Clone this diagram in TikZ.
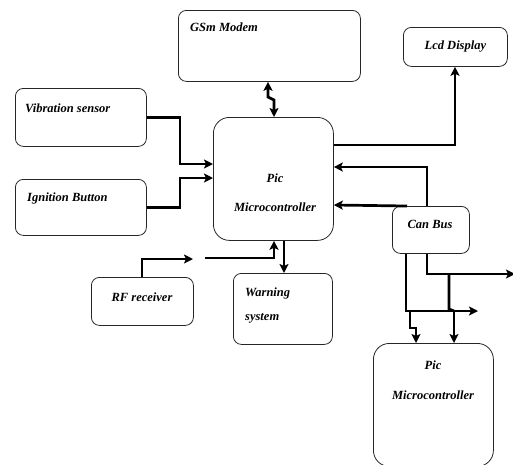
\documentclass[tikz,border=0pt]{standalone}
\usepackage{fontspec}
\setmainfont{Liberation Serif}
\usetikzlibrary{arrows.meta}
\begin{document}
\begin{tikzpicture}[x=1pt,y=-1pt,
  box/.style={draw=black!85, line width=0.8pt, rounded corners=8pt, inner sep=0pt, anchor=north west},
  bigbox/.style={box, rounded corners=16pt},
  lbl/.style={font=\fontsize{12.5}{15}\selectfont\bfseries\itshape, inner sep=0pt},
  conn/.style={line width=2.7pt},
  tip/.tip={Stealth[length=9pt,width=9pt,inset=2pt]},
  arr/.style={conn, -tip},
  darr/.style={conn, tip-tip}
]
\path[use as bounding box] (0,0) rectangle (513,464);

% boxes
\node[box, minimum width=182pt, minimum height=71pt] (gsm) at (178,10) {};
\node[box, minimum width=104pt, minimum height=39pt] (lcd) at (403,27) {};
\node[box, minimum width=131pt, minimum height=58pt] (vib) at (15,88) {};
\node[box, minimum width=131pt, minimum height=56pt] (ign) at (15,179) {};
\node[bigbox, minimum width=120pt, minimum height=123pt] (pic) at (213,117) {};
\node[box, minimum width=102pt, minimum height=48pt] (rf) at (91,277) {};
\node[box, minimum width=99pt, minimum height=71pt] (warn) at (233,273) {};
\node[box, minimum width=77pt, minimum height=47pt] (can) at (392,206) {};
\node[bigbox, minimum width=120pt, minimum height=123pt] (pic2) at (373,343) {};

% texts
\node[lbl, anchor=west] (gsmt) at (190,27) {GSm Modem};
\node[lbl] (lcdt) at (lcd.center) {Lcd Display};
\node[lbl, anchor=west] (vibt) at (25,108) {Vibration sensor};
\node[lbl, anchor=west] (ignt) at (27,198) {Ignition Button};
\node[lbl] (pict1) at (275,178) {Pic};
\node[lbl] (pict2) at (275,207) {Microcontroller};
\node[lbl] (rft) at (142,297) {RF receiver};
\node[lbl, anchor=west] (warnt1) at (245,293) {Warning};
\node[lbl, anchor=west] (warnt2) at (245,318) {system};
\node[lbl] (cant) at (430,224) {Can Bus};
\node[lbl] (pic2t1) at (433,365) {Pic};
\node[lbl] (pic2t2) at (433,395) {Microcontroller};

% coordinates
\coordinate (v1) at (180,164);
\coordinate (i1) at (180,178);
\coordinate (g1) at (268,97);
\coordinate (g2) at (274,100);
\coordinate (l1) at (455,145);
\coordinate (c1) at (427,167);
\coordinate (c2) at (407,205);
\coordinate (b1) at (406,311);
\coordinate (b2) at (427,274);
\coordinate (b3) at (449,274);
\coordinate (b3e) at (449,309);
\coordinate (b3f) at (454,311);
\coordinate (b4) at (478,311);
\coordinate (oute) at (515,274);
\coordinate (d0) at (410,311);
\coordinate (d1) at (410,328);
\coordinate (d2) at (416,328);
\coordinate (d3) at (454,311);
\coordinate (r1) at (142,259);
\coordinate (r2) at (193,259);
\coordinate (r3) at (205,258);
\coordinate (r4) at (274,258);
\coordinate (w1) at (284,240);

% connectors
\draw[arr] (vib.east) -| (v1) -- (v1 -| pic.west);
\draw[arr] (ign.east) -| (i1) -- (i1 -| pic.west);
\draw[darr] (gsm.south -| g1) -- (g1) -- (g2) -- (pic.north -| g2);
\draw[arr] (pic.east |- l1) -- (l1) -- (lcd.south -| l1);
\draw[arr] (can.north -| c1) -- (c1) -- (c1 -| pic.east);
\draw[arr] (can.north -| c2) -- (c2 -| pic.east);
\draw[arr] (can.south -| b2) -- (b2) -- (oute);
\draw[arr] (can.south -| b1) -- (b1) -- (b4);
\draw[conn] (b3) -- (b3e) -- (b3f);
\draw[arr] (d0) -- (d1) -- (d2) -- (d2 |- pic2.north);
\draw[arr] (d3) -- (d3 |- pic2.north);
\draw[arr] (rf.north -| r1) -- (r1) -- (r2);
\draw[arr] (r3) -- (r4) -- (r4 |- pic.south);
\draw[arr] (pic.south -| w1) -- (warn.north -| w1);
\end{tikzpicture}
\end{document}
